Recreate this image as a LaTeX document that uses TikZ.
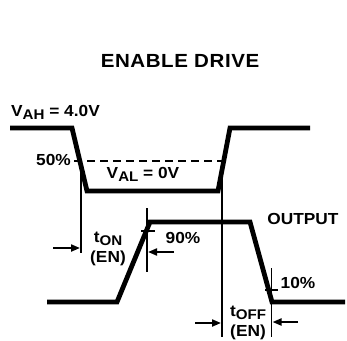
\documentclass[tikz,border=0pt]{standalone}
\usepackage{fontspec}
\setmainfont{Liberation Sans}[FakeStretch=1.08]
\usepackage{tikz}
\usetikzlibrary{arrows.meta}
\newcommand{\lsub}[1]{\raisebox{-0.35ex}{\fontsize{14}{14}\selectfont #1}}

\begin{document}
\begin{tikzpicture}[
    x=1pt,y=-1pt,
    label/.style={font=\bfseries\fontsize{16}{17}\selectfont,inner sep=0pt,align=center},
    title/.style={font=\bfseries\fontsize{19}{20}\selectfont\addfontfeatures{LetterSpace=3},inner sep=0pt},
    wave/.style={line width=4.8pt,miter limit=20},
    marker/.style={line width=1.6pt},
    level/.style={line width=2pt,dash pattern=on 8pt off 5pt},
    arrow/.style={-{Triangle[length=9pt,width=7pt]},line width=2pt}
]
\useasboundingbox (0,0) rectangle (347,340);

\node[title] (title) at (180,61) {ENABLE DRIVE};

% enable input
\coordinate (inhi0) at (10,128);
\coordinate (infall) at (72,128);
\coordinate (inlo0) at (87,191);
\coordinate (inlo1) at (218,191);
\coordinate (inrise) at (230,128);
\coordinate (inhi1) at (310,128);
\draw[wave] (inhi0) -- (infall) -- (inlo0) -- (inlo1) -- (inrise) -- (inhi1);

% output
\coordinate (outlo0) at (47,302);
\coordinate (outrise) at (117,302);
\coordinate (outhi0) at (150,222);
\coordinate (outhi1) at (250,222);
\coordinate (outfall) at (272,302);
\coordinate (outlo1) at (345,302);
\draw[wave] (outlo0) -- (outrise) -- (outhi0) -- (outhi1) -- (outfall) -- (outlo1);

\node[label,anchor=west] (vah) at (11,112) {V\lsub{AH} = 4.0V};
\node[label,anchor=east] (half) at (71,160) {50\%};
\node[label] (val) at (143,174) {V\lsub{AL} = 0V};
\node[label] (output) at (303,219) {OUTPUT};
\node[label] (ninety) at (183,238) {90\%};
\node[label] (ten) at (298,283) {10\%};
\node[label] (ton) at (108,239) {t\lsub{ON}};
\node[label] (tonen) at (108,258) {(EN)};
\node[label] (toff) at (248,313) {t\lsub{OFF}};
\node[label] (toffen) at (248,332) {(EN)};

% 50% level and timing marks
\coordinate (lvla) at (74,160.5);
\coordinate (lvlb) at (229,160.5);
\draw[level] (lvla) -- (lvlb);

\coordinate (ona) at (81,160);
\coordinate (onb) at (81,253);
\coordinate (offa) at (222,160);
\coordinate (offb) at (222,337);
\coordinate (upa) at (147,208);
\coordinate (upb) at (147,272);
\coordinate (dna) at (271.5,268);
\coordinate (dnb) at (271.5,337);
\draw[marker] (ona) -- (onb);
\draw[marker] (offa) -- (offb);
\draw[marker] (upa) -- (upb);
\draw[marker] (dna) -- (dnb);
\draw[marker] (141,231) -- (155,231);
\draw[marker] (265,290) -- (278,290);

\coordinate (ontail) at (53,248);
\coordinate (onhead) at (80,248);
\coordinate (uptail) at (174,252);
\coordinate (uphead) at (148,252);
\coordinate (offtail) at (195,323);
\coordinate (offhead) at (221,323);
\coordinate (dntail) at (298,322);
\coordinate (dnhead) at (272.5,322);
\draw[arrow] (ontail) -- (onhead);
\draw[arrow] (uptail) -- (uphead);
\draw[arrow] (offtail) -- (offhead);
\draw[arrow] (dntail) -- (dnhead);
\end{tikzpicture}
\end{document}
